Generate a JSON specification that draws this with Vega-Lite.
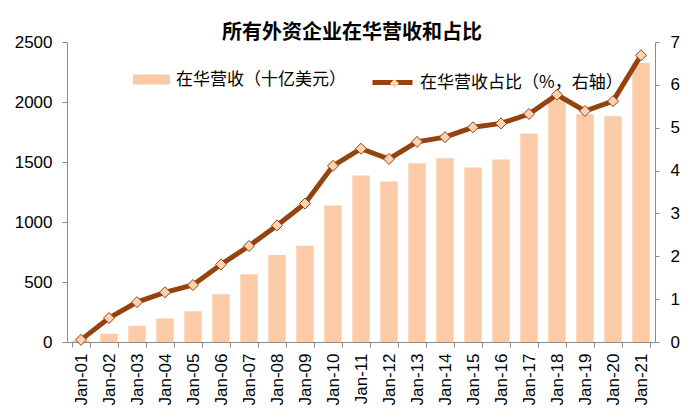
{
  "$schema": "https://vega.github.io/schema/vega-lite/v6.json",
  "width": 588,
  "height": 300,
  "autosize": "none",
  "padding": {"left": 67, "top": 42, "right": 45, "bottom": 78},
  "background": "white",
  "title": {
    "text": "所有外资企业在华营收和占比",
    "font": "Noto Sans CJK SC",
    "fontSize": 20,
    "fontWeight": "bold",
    "color": "#000000",
    "anchor": "middle",
    "frame": "group",
    "dx": -9,
    "dy": 31,
    "baseline": "alphabetic",
    "offset": 5
  },
  "config": {
    "view": {"stroke": null},
    "axis": {
      "domainColor": "#8c8c8c",
      "tickColor": "#8c8c8c",
      "labelFont": "Liberation Sans",
      "labelColor": "#000000",
      "grid": false
    },
    "legend": {
      "labelFont": "Noto Sans CJK SC",
      "labelFontSize": 17,
      "labelColor": "#000000",
      "labelLimit": 400,
      "padding": 0,
      "titlePadding": 0
    }
  },
  "data": {
    "values": [
      {"month": "Jan-01", "rev": 12, "pct": 0.05},
      {"month": "Jan-02", "rev": 69, "pct": 0.56},
      {"month": "Jan-03", "rev": 135, "pct": 0.93},
      {"month": "Jan-04", "rev": 196, "pct": 1.16},
      {"month": "Jan-05", "rev": 257, "pct": 1.33},
      {"month": "Jan-06", "rev": 398, "pct": 1.81},
      {"month": "Jan-07", "rev": 565, "pct": 2.24},
      {"month": "Jan-08", "rev": 725, "pct": 2.72},
      {"month": "Jan-09", "rev": 802, "pct": 3.23},
      {"month": "Jan-10", "rev": 1138, "pct": 4.11},
      {"month": "Jan-11", "rev": 1387, "pct": 4.51},
      {"month": "Jan-12", "rev": 1337, "pct": 4.27},
      {"month": "Jan-13", "rev": 1490, "pct": 4.67},
      {"month": "Jan-14", "rev": 1531, "pct": 4.78},
      {"month": "Jan-15", "rev": 1454, "pct": 5.01},
      {"month": "Jan-16", "rev": 1520, "pct": 5.10},
      {"month": "Jan-17", "rev": 1737, "pct": 5.32},
      {"month": "Jan-18", "rev": 2015, "pct": 5.77},
      {"month": "Jan-19", "rev": 1898, "pct": 5.39},
      {"month": "Jan-20", "rev": 1882, "pct": 5.62},
      {"month": "Jan-21", "rev": 2325, "pct": 6.69}
    ]
  },
  "encoding": {
    "x": {
      "field": "month",
      "type": "ordinal",
      "sort": null,
      "scale": {"paddingInner": 0.38, "paddingOuter": 0.19},
      "axis": {
        "title": null,
        "labelAngle": -90,
        "labelFontSize": 17,
        "labelPadding": 6,
        "tickSize": 5,
        "tickBand": "extent",
        "labelBaseline": "middle",
        "labelAlign": "right"
      }
    }
  },
  "layer": [
    {
      "mark": {"type": "bar"},
      "encoding": {
        "y": {
          "field": "rev",
          "type": "quantitative",
          "scale": {"domain": [0, 2500]},
          "axis": {
            "orient": "left",
            "title": null,
            "values": [0, 500, 1000, 1500, 2000, 2500],
            "format": "d",
            "labelFontSize": 17,
            "tickSize": 5,
            "labelPadding": 10
          }
        },
        "fill": {
          "datum": "在华营收（十亿美元）",
          "scale": {"range": ["#FACBA6"]},
          "legend": {
            "title": null,
            "orient": "none",
            "legendX": 66,
            "legendY": 19,
            "symbolType": "M-1,-0.27L1,-0.27L1,0.27L-1,0.27Z",
            "symbolSize": 1369,
            "symbolStrokeWidth": 0,
            "labelOffset": 6
          }
        }
      }
    },
    {
      "encoding": {
        "y": {
          "field": "pct",
          "type": "quantitative",
          "scale": {"domain": [0, 7]},
          "axis": {
            "orient": "right",
            "title": null,
            "values": [0, 1, 2, 3, 4, 5, 6, 7],
            "format": "d",
            "labelFontSize": 17,
            "tickSize": 4,
            "labelPadding": 11
          }
        }
      },
      "layer": [
        {
          "mark": {"type": "line", "strokeWidth": 5},
          "encoding": {
            "stroke": {
              "datum": "在华营收占比（%，右轴）",
              "scale": {"range": ["#94420E"]},
              "legend": {
                "title": null,
                "orient": "none",
                "legendX": 303,
                "legendY": 18,
                "symbolType": "stroke",
                "symbolSize": 1600,
                "symbolStrokeWidth": 5,
                "labelOffset": 5
              }
            }
          }
        },
        {
          "mark": {"type": "point", "filled": true, "fill": "#FCD3B2", "stroke": "#94420E", "strokeWidth": 1, "size": 121, "opacity": 1},
          "encoding": {
            "shape": {
              "datum": "marker",
              "scale": {"range": ["diamond"]},
              "legend": {
                "title": null,
                "orient": "none",
                "legendX": 319,
                "legendY": 33,
                "symbolSize": 81,
                "symbolFillColor": "#FCD3B2",
                "symbolStrokeColor": "#94420E",
                "symbolStrokeWidth": 1,
                "labelExpr": "''"
              }
            }
          }
        }
      ]
    }
  ],
  "resolve": {"scale": {"y": "independent"}}
}
